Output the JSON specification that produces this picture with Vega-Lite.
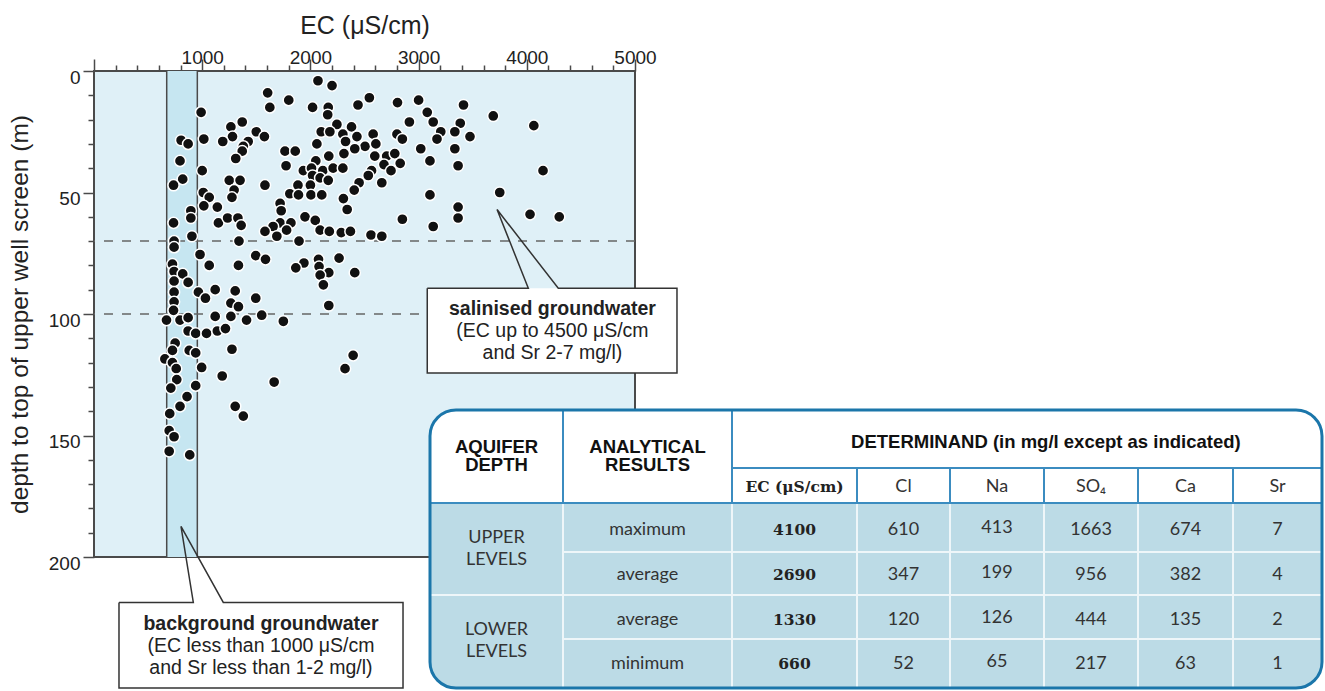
{
"$schema": "https://vega.github.io/schema/vega-lite/v6.json",
"width": 541, "height": 486,
"autosize": {"type": "none"},
"padding": {"left": 94, "top": 71, "right": 690, "bottom": 134},
"background": "#ffffff",
"config": {"view": {"fill": "#dff0f7", "stroke": "#4a4a4a", "strokeWidth": 2}, "font": "Liberation Sans", "axis": {"labelOverlap": false, "labelBound": false, "tickCount": 200}},
"datasets": {
"pts": [
{"ec":2070,"d":4},{"ec":2200,"d":6},{"ec":1605,"d":9},{"ec":1800,"d":12},{"ec":2545,"d":11},{"ec":2805,"d":13},{"ec":1625,"d":15},{"ec":2020,"d":15},{"ec":2165,"d":15},{"ec":2440,"d":14},
{"ec":990,"d":17},{"ec":2160,"d":18},{"ec":1370,"d":21},{"ec":1265,"d":23},{"ec":2245,"d":22},{"ec":2380,"d":23},{"ec":1500,"d":25},{"ec":1575,"d":27},{"ec":2100,"d":25},{"ec":2180,"d":25},
{"ec":2300,"d":26},{"ec":2430,"d":27},{"ec":2580,"d":26},{"ec":2800,"d":26},{"ec":1280,"d":27},{"ec":1190,"d":29},{"ec":1015,"d":28},{"ec":805,"d":28.5},{"ec":870,"d":30},{"ec":1425,"d":29},
{"ec":1380,"d":31},{"ec":2060,"d":30},{"ec":2325,"d":29},{"ec":2505,"d":31},{"ec":2410,"d":32},{"ec":2605,"d":30},{"ec":2850,"d":28},{"ec":1370,"d":33},{"ec":1765,"d":33},{"ec":1860,"d":33},
{"ec":2310,"d":34},{"ec":1310,"d":36},{"ec":2170,"d":35},{"ec":2595,"d":35},{"ec":2705,"d":35},{"ec":2780,"d":34},{"ec":795,"d":37},{"ec":2050,"d":37},{"ec":1775,"d":39},{"ec":1935,"d":41},
{"ec":2010,"d":40},{"ec":2115,"d":41},{"ec":2210,"d":40},{"ec":2300,"d":40},{"ec":2565,"d":41},{"ec":2680,"d":38.5},{"ec":2830,"d":38},{"ec":1000,"d":41},{"ec":2745,"d":41},{"ec":2020,"d":43},
{"ec":2090,"d":44},{"ec":2165,"d":45},{"ec":2535,"d":43},{"ec":2450,"d":46},{"ec":2660,"d":46},{"ec":820,"d":44.5},{"ec":735,"d":47},{"ec":1250,"d":45},{"ec":1350,"d":45},{"ec":1580,"d":47},
{"ec":1885,"d":47},{"ec":2000,"d":47},{"ec":1295,"d":49},{"ec":1275,"d":52},{"ec":1010,"d":50},{"ec":1810,"d":50.5},{"ec":1890,"d":51},{"ec":2005,"d":51},{"ec":2105,"d":51},{"ec":2405,"d":49},
{"ec":1065,"d":52},{"ec":2305,"d":52.5},{"ec":1015,"d":55.5},{"ec":1140,"d":56},{"ec":1720,"d":54.5},{"ec":1730,"d":57.5},{"ec":2340,"d":57},{"ec":895,"d":57.5},{"ec":895,"d":60.5},{"ec":2850,"d":61},
{"ec":735,"d":62.5},{"ec":1150,"d":62.5},{"ec":1235,"d":60.5},{"ec":1330,"d":60.5},{"ec":1360,"d":63.5},{"ec":1950,"d":60},{"ec":2045,"d":61.5},{"ec":1720,"d":62.5},{"ec":1820,"d":62.5},{"ec":1655,"d":64},
{"ec":1780,"d":65.5},{"ec":2090,"d":65.5},{"ec":1580,"d":66},{"ec":1690,"d":68},{"ec":2175,"d":66},{"ec":2285,"d":66.5},{"ec":2370,"d":66},{"ec":2560,"d":67.5},{"ec":2660,"d":68},{"ec":905,"d":68},
{"ec":1340,"d":70},{"ec":1895,"d":70},{"ec":740,"d":70},{"ec":740,"d":72.5},{"ec":980,"d":75.5},{"ec":1495,"d":76},{"ec":1585,"d":77.5},{"ec":2265,"d":77},{"ec":1065,"d":80},{"ec":1335,"d":80},
{"ec":1940,"d":79},{"ec":1865,"d":81},{"ec":2075,"d":77.5},{"ec":2080,"d":80.5},{"ec":2170,"d":83},{"ec":2410,"d":83},{"ec":725,"d":79.5},{"ec":740,"d":82.5},{"ec":820,"d":83.5},{"ec":870,"d":87},
{"ec":740,"d":86.5},{"ec":2090,"d":84},{"ec":2120,"d":88},{"ec":740,"d":91},{"ec":965,"d":91},{"ec":1120,"d":90},{"ec":1030,"d":93.5},{"ec":1305,"d":90.5},{"ec":1265,"d":95.5},{"ec":1335,"d":97},
{"ec":1495,"d":93.5},{"ec":740,"d":95},{"ec":735,"d":98.5},{"ec":2170,"d":96.5},{"ec":1120,"d":101},{"ec":1265,"d":101},{"ec":1550,"d":100.5},{"ec":1410,"d":102.5},{"ec":1750,"d":103},{"ec":670,"d":102.5},
{"ec":795,"d":102.5},{"ec":870,"d":101.5},{"ec":870,"d":107},{"ec":940,"d":108},{"ec":1040,"d":108},{"ec":1140,"d":107},{"ec":1215,"d":106},{"ec":750,"d":112},{"ec":725,"d":115},{"ec":880,"d":115},
{"ec":940,"d":116},{"ec":1275,"d":114.5},{"ec":655,"d":118.5},{"ec":725,"d":120},{"ec":760,"d":122.5},{"ec":995,"d":122},{"ec":1185,"d":125.5},{"ec":765,"d":127},{"ec":1665,"d":128},{"ec":2395,"d":117},
{"ec":2320,"d":122.5},{"ec":710,"d":130.5},{"ec":940,"d":129.5},{"ec":860,"d":134},{"ec":795,"d":138},{"ec":700,"d":141},{"ec":1305,"d":138},{"ec":1380,"d":142},{"ec":695,"d":148},{"ec":740,"d":150.5},
{"ec":695,"d":156.5},{"ec":885,"d":158},
{"ec":3000,"d":12},{"ec":3080,"d":17},{"ec":3135,"d":21},{"ec":2915,"d":21},{"ec":3415,"d":14},{"ec":3385,"d":21.5},{"ec":3690,"d":18.5},{"ec":4065,"d":22.5},{"ec":3205,"d":25},{"ec":3335,"d":25},
{"ec":3020,"d":32},{"ec":3170,"d":28},{"ec":3335,"d":32},{"ec":3475,"d":27},{"ec":3105,"d":37},{"ec":3365,"d":39},{"ec":3105,"d":51},{"ec":3365,"d":56},{"ec":3365,"d":60.5},{"ec":3135,"d":64},
{"ec":3750,"d":50},{"ec":4030,"d":59},{"ec":4150,"d":41},{"ec":4300,"d":60}
],
"band": [{"ec": 672, "ec2": 955, "d": 0, "d2": 200}],
"edges": [{"ec": 672}, {"ec": 955}],
"levels": [{"d": 70}, {"d": 100}],
"boxes": [
{"name": "salinised", "ec": 3080, "ec2": 5388, "d": 89.4, "d2": 124.3},
{"name": "background", "ec": 231, "ec2": 2856, "d": 218.7, "d2": 253.9}
],
"outline": [
{"name": "salinised", "o": 1, "ec": 3080, "d": 89.4},
{"name": "salinised", "o": 2, "ec": 4014, "d": 89.4},
{"name": "salinised", "o": 3, "ec": 3725, "d": 57},
{"name": "salinised", "o": 4, "ec": 4291, "d": 89.4},
{"name": "salinised", "o": 5, "ec": 5388, "d": 89.4},
{"name": "salinised", "o": 6, "ec": 5388, "d": 124.3},
{"name": "salinised", "o": 7, "ec": 3080, "d": 124.3},
{"name": "salinised", "o": 8, "ec": 3080, "d": 89.4},
{"name": "background", "o": 1, "ec": 231, "d": 218.7},
{"name": "background", "o": 2, "ec": 918, "d": 218.7},
{"name": "background", "o": 3, "ec": 804, "d": 187.4},
{"name": "background", "o": 4, "ec": 1195, "d": 218.7},
{"name": "background", "o": 5, "ec": 2856, "d": 218.7},
{"name": "background", "o": 6, "ec": 2856, "d": 253.9},
{"name": "background", "o": 7, "ec": 231, "d": 253.9},
{"name": "background", "o": 8, "ec": 231, "d": 218.7}
],
"notes": [
{"name": "salinised", "role": "title", "ec": 4237, "d": 97.9, "text": "salinised groundwater"},
{"name": "salinised", "role": "detail", "ec": 4237, "d": 107.2, "text": "(EC up to 4500 μS/cm\nand Sr 2-7 mg/l)"},
{"name": "background", "role": "title", "ec": 1543, "d": 227.4, "text": "background groundwater"},
{"name": "background", "role": "detail", "ec": 1543, "d": 236.8, "text": "(EC less than 1000 μS/cm\nand Sr less than 1-2 mg/l)"}
],
"frame": [{"c": 0, "c2": 8, "r": 0, "r2": 6}],
"body": [{"c": 0, "c2": 8, "r": 2, "r2": 6}],
"grid": [
{"part": "head", "c": 1, "c2": 1, "r": 0, "r2": 2},
{"part": "head", "c": 2, "c2": 2, "r": 0, "r2": 2},
{"part": "head", "c": 3, "c2": 3, "r": 1, "r2": 2},
{"part": "head", "c": 4, "c2": 4, "r": 1, "r2": 2},
{"part": "head", "c": 5, "c2": 5, "r": 1, "r2": 2},
{"part": "head", "c": 6, "c2": 6, "r": 1, "r2": 2},
{"part": "head", "c": 7, "c2": 7, "r": 1, "r2": 2},
{"part": "head", "c": 2, "c2": 8, "r": 1, "r2": 1},
{"part": "head", "c": 0, "c2": 8, "r": 2, "r2": 2},
{"part": "body", "c": 1, "c2": 1, "r": 2, "r2": 6},
{"part": "body", "c": 2, "c2": 2, "r": 2, "r2": 6},
{"part": "body", "c": 3, "c2": 3, "r": 2, "r2": 6},
{"part": "body", "c": 4, "c2": 4, "r": 2, "r2": 6},
{"part": "body", "c": 5, "c2": 5, "r": 2, "r2": 6},
{"part": "body", "c": 6, "c2": 6, "r": 2, "r2": 6},
{"part": "body", "c": 7, "c2": 7, "r": 2, "r2": 6},
{"part": "body", "c": 1, "c2": 8, "r": 3, "r2": 3},
{"part": "body", "c": 0, "c2": 8, "r": 4, "r2": 4},
{"part": "body", "c": 1, "c2": 8, "r": 5, "r2": 5}
],
"cells": [
{"part": "head", "c": 0.5, "r": 0.633, "t": "AQUIFER\nDEPTH"},
{"part": "head", "c": 1.5, "r": 0.633, "t": "ANALYTICAL\nRESULTS"},
{"part": "head", "c": 5.02, "r": 0.55, "t": "DETERMINAND (in mg/l except as indicated)"},
{"part": "ec", "c": 2.5, "r": 1.53, "t": "EC (μS/cm)"},
{"part": "cell", "c": 3.5, "r": 1.53, "t": "Cl"},
{"part": "cell", "c": 4.5, "r": 1.53, "t": "Na"},
{"part": "cell", "c": 5.5, "r": 1.53, "t": "SO₄"},
{"part": "cell", "c": 6.5, "r": 1.53, "t": "Ca"},
{"part": "cell", "c": 7.5, "r": 1.53, "t": "Sr"},
{"part": "cell", "c": 0.5, "r": 2.714, "t": "UPPER\nLEVELS"},
{"part": "cell", "c": 0.5, "r": 4.795, "t": "LOWER\nLEVELS"},
{"part": "cell", "c": 1.5, "r": 2.55, "t": "maximum"},
{"part": "cell", "c": 1.5, "r": 3.53, "t": "average"},
{"part": "cell", "c": 1.5, "r": 4.57, "t": "average"},
{"part": "cell", "c": 1.5, "r": 5.51, "t": "minimum"},
{"part": "ec", "c": 2.5, "r": 2.55, "t": "4100"},
{"part": "ec", "c": 2.5, "r": 3.53, "t": "2690"},
{"part": "ec", "c": 2.5, "r": 4.57, "t": "1330"},
{"part": "ec", "c": 2.5, "r": 5.51, "t": "660"},
{"part": "cell", "c": 3.5, "r": 2.55, "t": "610"},
{"part": "cell", "c": 3.5, "r": 3.53, "t": "347"},
{"part": "cell", "c": 3.5, "r": 4.57, "t": "120"},
{"part": "cell", "c": 3.5, "r": 5.51, "t": "52"},
{"part": "cell", "c": 4.5, "r": 2.5, "t": "413"},
{"part": "cell", "c": 4.5, "r": 3.48, "t": "199"},
{"part": "cell", "c": 4.5, "r": 4.52, "t": "126"},
{"part": "cell", "c": 4.5, "r": 5.46, "t": "65"},
{"part": "cell", "c": 5.5, "r": 2.55, "t": "1663"},
{"part": "cell", "c": 5.5, "r": 3.53, "t": "956"},
{"part": "cell", "c": 5.5, "r": 4.57, "t": "444"},
{"part": "cell", "c": 5.5, "r": 5.51, "t": "217"},
{"part": "cell", "c": 6.5, "r": 2.55, "t": "674"},
{"part": "cell", "c": 6.5, "r": 3.53, "t": "382"},
{"part": "cell", "c": 6.5, "r": 4.57, "t": "135"},
{"part": "cell", "c": 6.5, "r": 5.51, "t": "63"},
{"part": "cell", "c": 7.5, "r": 2.55, "t": "7"},
{"part": "cell", "c": 7.5, "r": 3.53, "t": "4"},
{"part": "cell", "c": 7.5, "r": 4.57, "t": "2"},
{"part": "cell", "c": 7.5, "r": 5.51, "t": "1"}
]
},
"layer": [
{
"layer": [
{
"data": {"name": "band"},
"mark": {"type": "rect", "fill": "#c6e6f1"},
"encoding": {
"x": {"field": "ec", "type": "quantitative", "scale": {"domain": [0, 5000], "nice": false, "zero": false},
"axis": {"orient": "top", "title": "EC (μS/cm)", "values": [0,200,400,600,800,1000,1200,1400,1600,1800,2000,2200,2400,2600,2800,3000,3200,3400,3600,3800,4000,4200,4400,4600,4800,5000],
"tickCount": 200,
"format": "d", "labelExpr": "datum.value % 1000 === 0 && datum.value > 0 ? datum.label : ''",
"tickSize": 12, "tickDash": {"condition": {"test": "datum.value % 1000 === 0", "value": [12, 0]}, "value": [6, 30]},
"tickColor": "#4a4a4a", "tickWidth": 1.5, "domain": false, "grid": false,
"labelFontSize": 19, "labelColor": "#222222", "labelPadding": -8, "labelOverlap": false, "labelFlush": false, "labelBound": false, "labelSeparation": 0,
"titleFontSize": 25, "titleFontWeight": "normal", "titleColor": "#222222", "titlePadding": 10}},
"x2": {"field": "ec2"},
"y": {"field": "d", "type": "quantitative", "scale": {"domain": [0, 200], "nice": false, "zero": false, "reverse": true},
"axis": {"orient": "left", "title": "depth to top of upper well screen (m)", "values": [0,10,20,30,40,50,60,70,80,90,100,110,120,130,140,150,160,170,180,190,200],
"tickCount": 200,
"labelExpr": "datum.value % 50 === 0 ? datum.label : ''",
"tickSize": 11, "tickDash": {"condition": {"test": "datum.value % 50 === 0", "value": [11, 0]}, "value": [6, 30]},
"tickColor": "#4a4a4a", "tickWidth": 1.5, "domain": false, "grid": false,
"labelFontSize": 19, "labelColor": "#222222", "labelPadding": 3, "labelOffset": 6, "labelOverlap": false, "labelBound": false, "labelSeparation": 0,
"titleFontSize": 24.5, "titleFontWeight": "normal", "titleColor": "#222222", "titlePadding": 16}},
"y2": {"field": "d2"}
}
},
{
"data": {"name": "edges"},
"mark": {"type": "rule", "color": "#4a4a4a", "strokeWidth": 1.5},
"encoding": {"x": {"field": "ec", "type": "quantitative", "scale": {"domain": [0, 5000], "nice": false, "zero": false}}}
},
{
"data": {"name": "levels"},
"mark": {"type": "rule", "color": "#666666", "strokeWidth": 1.5, "strokeDash": [9, 9]},
"encoding": {"y": {"field": "d", "type": "quantitative", "scale": {"domain": [0, 200], "nice": false, "zero": false, "reverse": true}}}
},
{
"data": {"name": "pts"},
"mark": {"type": "circle", "size": 125, "fill": "#111111", "stroke": "#ffffff", "strokeWidth": 1.5, "opacity": 1},
"encoding": {
"x": {"field": "ec", "type": "quantitative", "scale": {"domain": [0, 5000], "nice": false, "zero": false}},
"y": {"field": "d", "type": "quantitative", "scale": {"domain": [0, 200], "nice": false, "zero": false, "reverse": true}}
}
},
{
"data": {"name": "boxes"},
"mark": {"type": "rect", "fill": "#ffffff"},
"encoding": {
"x": {"field": "ec", "type": "quantitative", "scale": {"domain": [0, 5000], "nice": false, "zero": false}},
"x2": {"field": "ec2"},
"y": {"field": "d", "type": "quantitative", "scale": {"domain": [0, 200], "nice": false, "zero": false, "reverse": true}},
"y2": {"field": "d2"}
}
},
{
"data": {"name": "outline"},
"mark": {"type": "line", "color": "#333333", "strokeWidth": 1.5, "strokeJoin": "miter"},
"encoding": {
"x": {"field": "ec", "type": "quantitative", "scale": {"domain": [0, 5000], "nice": false, "zero": false}},
"y": {"field": "d", "type": "quantitative", "scale": {"domain": [0, 200], "nice": false, "zero": false, "reverse": true}},
"detail": {"field": "name"},
"order": {"field": "o"}
}
},
{
"data": {"name": "notes"},
"transform": [{"filter": "datum.role === 'title'"}],
"mark": {"type": "text", "fontSize": 19.5, "fontWeight": "bold", "color": "#222222", "baseline": "middle", "align": "center"},
"encoding": {
"x": {"field": "ec", "type": "quantitative", "scale": {"domain": [0, 5000], "nice": false, "zero": false}},
"y": {"field": "d", "type": "quantitative", "scale": {"domain": [0, 200], "nice": false, "zero": false, "reverse": true}},
"text": {"field": "text"}
}
},
{
"data": {"name": "notes"},
"transform": [{"filter": "datum.role === 'detail'"}],
"mark": {"type": "text", "fontSize": 19.5, "color": "#222222", "baseline": "middle", "align": "center", "lineBreak": "\n", "lineHeight": 22},
"encoding": {
"x": {"field": "ec", "type": "quantitative", "scale": {"domain": [0, 5000], "nice": false, "zero": false}},
"y": {"field": "d", "type": "quantitative", "scale": {"domain": [0, 200], "nice": false, "zero": false, "reverse": true}},
"text": {"field": "text"}
}
}
]
},
{
"layer": [
{
"data": {"name": "frame"},
"mark": {"type": "rect", "fill": "#ffffff", "cornerRadius": 26},
"encoding": {
"x": {"field": "c", "type": "quantitative", "scale": {"domain": [0,1,2,3,4,5,6,7,8], "range": [336,469,638,763,856,950,1044,1139,1228], "nice": false, "zero": false}, "axis": null},
"x2": {"field": "c2"},
"y": {"field": "r", "type": "quantitative", "scale": {"domain": [0,1,2,3,4,5,6], "range": [339,397,432,481,524,568,617], "nice": false, "zero": false}, "axis": null},
"y2": {"field": "r2"}
}
},
{
"data": {"name": "body"},
"mark": {"type": "rect", "fill": "#bcdbe6", "cornerRadiusBottomLeft": 26, "cornerRadiusBottomRight": 26},
"encoding": {
"x": {"field": "c", "type": "quantitative", "axis": null},
"x2": {"field": "c2"},
"y": {"field": "r", "type": "quantitative", "axis": null},
"y2": {"field": "r2"}
}
},
{
"data": {"name": "grid"},
"transform": [{"filter": "datum.part === 'body'"}],
"mark": {"type": "rule", "color": "#eef6f9", "strokeWidth": 2},
"encoding": {
"x": {"field": "c", "type": "quantitative", "axis": null},
"x2": {"field": "c2"},
"y": {"field": "r", "type": "quantitative", "axis": null},
"y2": {"field": "r2"}
}
},
{
"data": {"name": "grid"},
"transform": [{"filter": "datum.part === 'head'"}],
"mark": {"type": "rule", "color": "#3b8cc0", "strokeWidth": 2},
"encoding": {
"x": {"field": "c", "type": "quantitative", "axis": null},
"x2": {"field": "c2"},
"y": {"field": "r", "type": "quantitative", "axis": null},
"y2": {"field": "r2"}
}
},
{
"data": {"name": "frame"},
"mark": {"type": "rect", "filled": false, "stroke": "#1b76aa", "strokeWidth": 3, "cornerRadius": 26},
"encoding": {
"x": {"field": "c", "type": "quantitative", "axis": null},
"x2": {"field": "c2"},
"y": {"field": "r", "type": "quantitative", "axis": null},
"y2": {"field": "r2"}
}
},
{
"data": {"name": "cells"},
"transform": [{"filter": "datum.part === 'head'"}],
"mark": {"type": "text", "font": "Liberation Sans", "fontWeight": "bold", "fontSize": 18.5, "color": "#111111", "baseline": "middle", "align": "center", "lineBreak": "\n", "lineHeight": 18.5},
"encoding": {
"x": {"field": "c", "type": "quantitative", "axis": null},
"y": {"field": "r", "type": "quantitative", "axis": null},
"text": {"field": "t"}
}
},
{
"data": {"name": "cells"},
"transform": [{"filter": "datum.part === 'ec'"}],
"mark": {"type": "text", "font": "DejaVu Serif", "fontWeight": "bold", "fontSize": 15.5, "color": "#222222", "baseline": "middle", "align": "center"},
"encoding": {
"x": {"field": "c", "type": "quantitative", "axis": null},
"y": {"field": "r", "type": "quantitative", "axis": null},
"text": {"field": "t"}
}
},
{
"data": {"name": "cells"},
"transform": [{"filter": "datum.part === 'cell'"}],
"mark": {"type": "text", "font": "Lato", "fontSize": 18, "color": "#333333", "baseline": "middle", "align": "center", "lineBreak": "\n", "lineHeight": 22},
"encoding": {
"x": {"field": "c", "type": "quantitative", "axis": null},
"y": {"field": "r", "type": "quantitative", "axis": null},
"text": {"field": "t"}
}
}
]
}
],
"resolve": {"scale": {"x": "independent", "y": "independent"}}
}
